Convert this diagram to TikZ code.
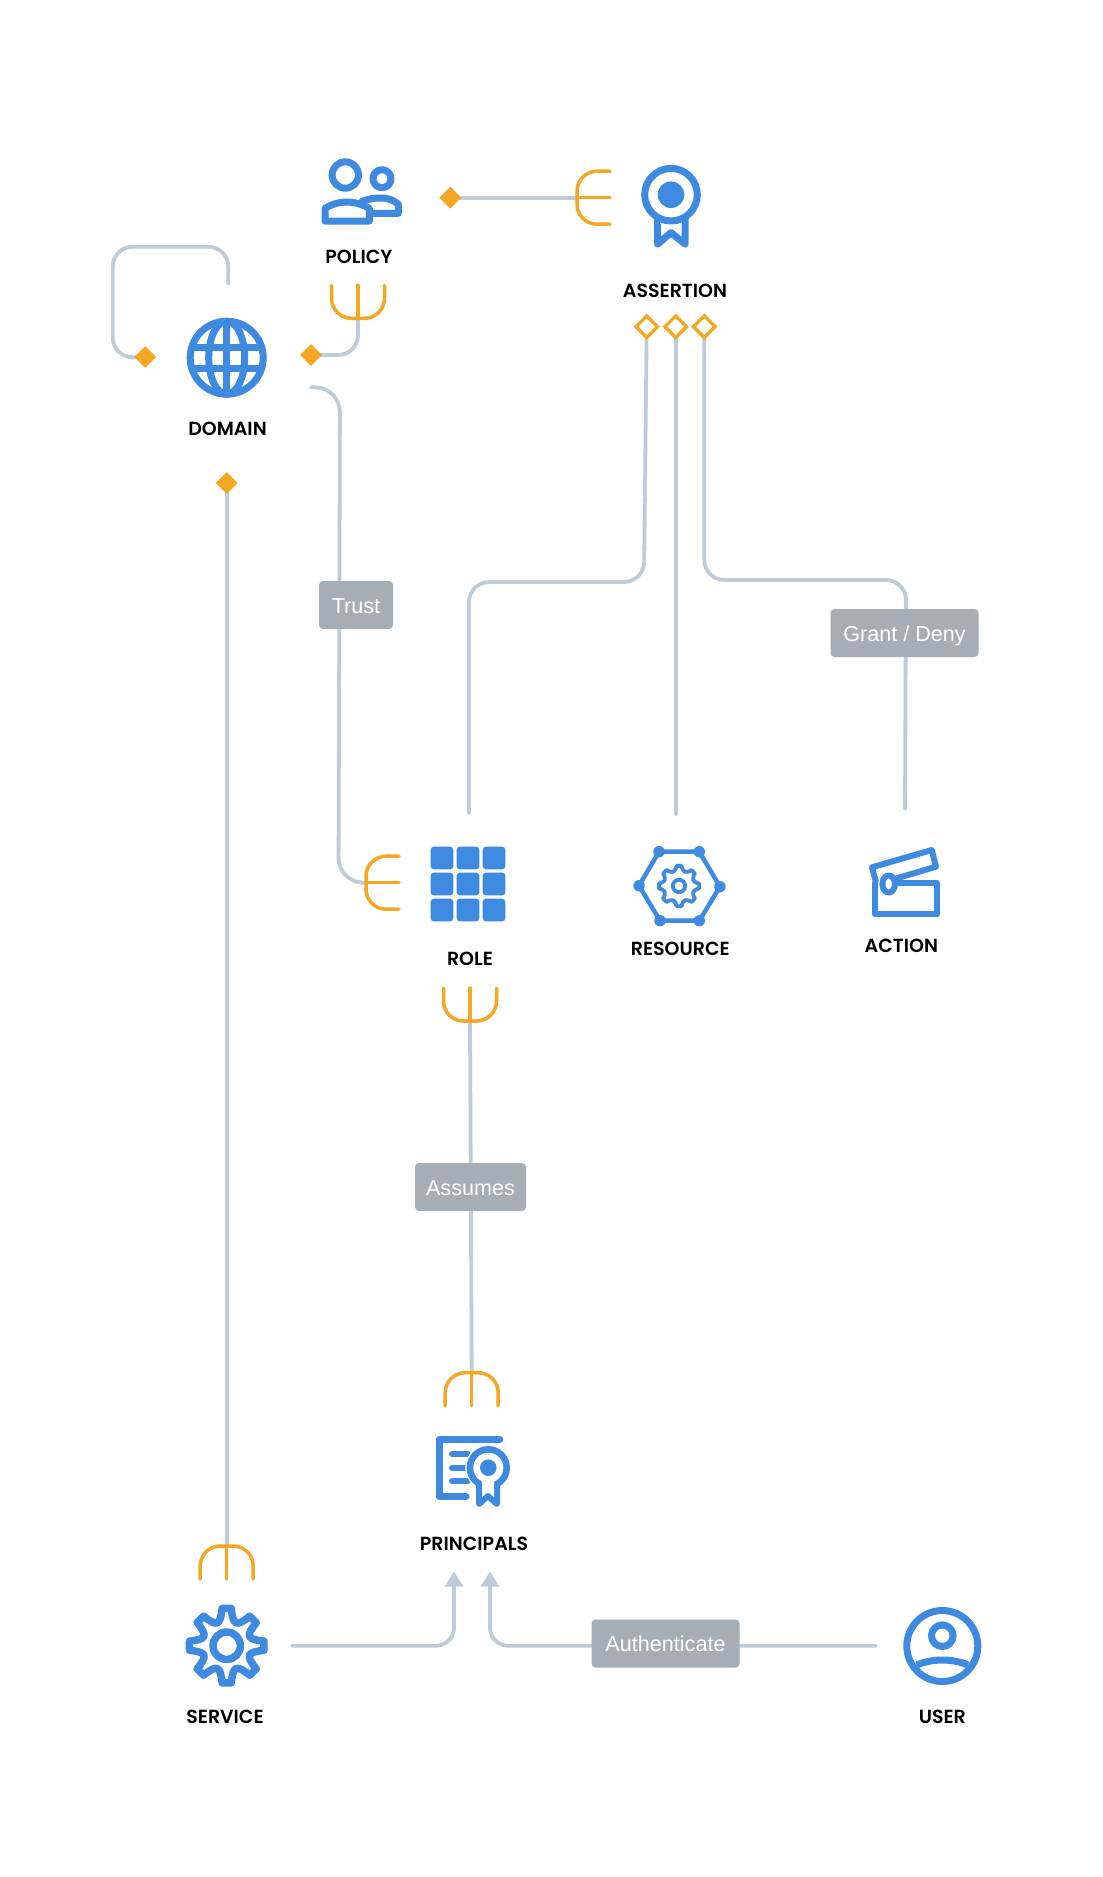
\documentclass[tikz,border=0pt]{standalone}
\usepackage{fontspec}
\setmainfont{Liberation Sans}
\newfontfamily\lblfont{Poppins}[BoldFont={* SemiBold}]
\usetikzlibrary{arrows.meta,shapes.geometric,backgrounds}
\definecolor{iconblue}{HTML}{3E8AE0}
\definecolor{forkorange}{HTML}{F5A623}
\definecolor{linegrey}{HTML}{BFCBD7}
\definecolor{tagfill}{HTML}{A5ADB5}
\tikzset{
  link/.style={draw=linegrey,line width=3.8pt,line cap=round,rounded corners=20pt},
  arrowlink/.style={link,rounded corners=18pt,-{Triangle[width=18pt,length=15pt]}},
  forkline/.style={draw=forkorange,line width=3.5pt,line cap=round,rounded corners=20pt},
  icon/.style={draw=iconblue,line width=7pt,line join=round,line cap=round},
  lbl/.style={font=\lblfont\bfseries\fontsize{19}{19}\selectfont,text=black,inner sep=0pt},
  tag/.style={fill=tagfill,rounded corners=4pt,text=white,font=\fontsize{21.6}{22}\selectfont,inner sep=0pt,anchor=center,text height=16pt,text depth=0pt},
  solid diamond/.style={diamond,fill=forkorange,minimum width=22pt,minimum height=22pt,inner sep=0pt},
  open diamond/.style={diamond,fill=white,draw=forkorange,line width=3.3pt,minimum width=23pt,minimum height=23pt,inner sep=0pt},
  crowfoot/.pic={
    \draw[forkline] (-26.5,-33) -- (-26.5,0) -- (26.5,0) -- (26.5,-33);
    \draw[forkline] (0,0) -- (0,-33);
  }
}
\newcommand{\mygear}[6]{% cx cy R valley width ringr
  \begin{scope}[shift={(#1,#2)}]
    \draw[icon,line width=#5pt,line cap=butt] (83:#3)
      \foreach \a in {0,45,...,315} { -- (\a+83:#3) -- (\a+97:#3) .. controls (\a+108:#4) and (\a+117:#4) .. (\a+128:#3) } -- cycle;
    \draw[icon,line width=#5pt] (0,0) circle[radius=#6];
  \end{scope}}
\begin{document}
\begin{tikzpicture}[x=1pt,y=-1pt]
\useasboundingbox (0,0) rectangle (1103,1877);

%%% labels
\node[lbl] (lpolicy) at (359,256.7) {POLICY};
\node[lbl] (lassertion) at (675,290.7) {ASSERTION};
\node[lbl] (ldomain) at (227.5,428.5) {DOMAIN};
\node[lbl] (lrole) at (470,958.5) {ROLE};
\node[lbl] (lresource) at (680.3,948.5) {RESOURCE};
\node[lbl] (laction) at (901.3,945.5) {ACTION};
\node[lbl] (lprincipals) at (474,1543.5) {PRINCIPALS};
\node[lbl] (lservice) at (225,1716.5) {SERVICE};
\node[lbl] (luser) at (942.3,1716.5) {USER};

%%% tags
\node[tag,minimum width=74pt,minimum height=48pt] (ttrust) at (356,605) {Trust};
\node[tag,minimum width=148pt,minimum height=48pt] (tgrant) at (904.5,633) {Grant / Deny};
\node[tag,minimum width=111pt,minimum height=48pt] (tassumes) at (470.5,1187) {Assumes};
\node[tag,minimum width=148pt,minimum height=48pt] (tauth) at (665.5,1643.5) {Authenticate};

%%% diamonds
\node[solid diamond] (dself) at (145.3,357) {};
\node[solid diamond] (dpolicy) at (311,355) {};
\node[solid diamond] (dassert) at (450.3,197.7) {};
\node[solid diamond] (dservice) at (226.7,483) {};
\node[open diamond] (oa) at (646.7,326.7) {};
\node[open diamond] (ob) at (675.7,326.7) {};
\node[open diamond] (oc) at (704.3,326.7) {};

%%% crow's feet
\pic at (358,318.3) {crowfoot};
\pic[rotate=-90] at (577,197.7) {crowfoot};
\pic[rotate=-90] at (366,882.7) {crowfoot};
\pic at (470,1021) {crowfoot};
\pic[rotate=180] at (471.7,1372.7) {crowfoot};
\pic[rotate=180] at (226.7,1546) {crowfoot};

%%% connector ends
\coordinate (cdomtop) at (228.3,284);
\coordinate (cpolfork) at (358,318.3);
\coordinate (casfork) at (577,197.7);
\coordinate (ctrust) at (311,387.3);
\coordinate (crolefork) at (366,882.7);
\coordinate (crolebot) at (470,1021);
\coordinate (cprifork) at (471.7,1372.7);
\coordinate (csvcfork) at (226.7,1546);
\coordinate (crole) at (469,813);
\coordinate (cres) at (675.7,814);
\coordinate (cact) at (905,809);
\coordinate (csvc) at (292,1645.7);
\coordinate (cuser) at (875.7,1645.7);
\coordinate (tipa) at (454,1571.7);
\coordinate (tipb) at (490,1571.7);

%%% connectors and background
\begin{scope}[on background layer]
  \fill[white] (0,0) rectangle (1103,1877);
  \draw[link] (cdomtop) -- (228.3,246.7) -- (112.7,246.7) -- (112.7,357.5) -- (dself.center);
  \draw[link] (cpolfork) -- (358,355) -- (dpolicy.center);
  \draw[link] (dassert.center) -- (casfork);
  \draw[link,rounded corners=25pt] (ctrust) -- (340,387.3) -- (338.5,882.7) -- (crolefork);
  \draw[link] (dservice.center) -- (csvcfork);
  \draw[link] (oa.center) -- (644,582) -- (469,582) -- (crole);
  \draw[link] (ob.center) -- (cres);
  \draw[link] (oc.center) -- (704.3,580) -- (906,580) -- (cact);
  \draw[link] (crolebot) -- (cprifork);
  \draw[arrowlink] (csvc) -- (454,1645.7) -- (tipa);
  \draw[arrowlink] (cuser) -- (490,1645.7) -- (tipb);
\end{scope}

%%% POLICY icon
\draw[icon] (382,178.7) circle[radius=9];
\draw[icon] (361.7,201.7) .. controls (368,198.5) and (375,198) .. (381.7,198) .. controls (388,198) and (393,200) .. (398.3,204) -- (398.3,213.3) -- (372.7,213.3);
\draw[icon] (345.3,175) circle[radius=13.2];
\draw[icon] (325,208.3) .. controls (332,204) and (340,202) .. (346.7,202) .. controls (354,202) and (362,204) .. (369.3,208.3) -- (369.3,221) -- (325,221) -- cycle;

%%% DOMAIN icon
\begin{scope}
  \draw[icon] (226.7,357.7) circle[radius=36.5];
  \draw[icon,line cap=butt] (226.7,321.2) -- (226.7,394.2);
  \draw[icon] (226.7,357.7) ellipse[x radius=18,y radius=36.5];
  \draw[icon,line cap=butt] (193,347.3) -- (260.4,347.3);
  \draw[icon,line cap=butt] (193,368) -- (260.4,368);
\end{scope}

%%% ASSERTION icon
\draw[icon] (657.7,215) -- (657.7,244) -- (671,232.7) -- (685,244) -- (685,215);
\fill[white] (660,215) rectangle (682,224);
\draw[icon,fill=white] (671,194.7) circle[radius=26.3];
\fill[iconblue] (671,194.7) circle[radius=13.3];

%%% ROLE icon
\foreach \x in {430.7,456.7,482.7} \foreach \y in {846.7,872.7,898.7}
  \fill[iconblue,rounded corners=3pt] (\x,\y) rectangle ++(22.6,22.6);

%%% RESOURCE icon
\draw[icon,line width=4.5pt] (659,851.7) -- (699.3,851.7) -- (720,886.7) -- (699.3,920.7) -- (660,920.7) -- (639,885.7) -- cycle;
\foreach \p in {(659,851.7),(699.3,851.7),(720,886.7),(699.3,920.7),(660,920.7),(639,885.7)}
  \fill[iconblue] \p circle[radius=5.7];
\mygear{679}{886}{20.3}{14}{3.8}{6.2}

%%% ACTION icon
\draw[icon,line width=6pt] (875.7,881) -- (872,867.3) -- (931.7,850) -- (936,866.7) -- (893.3,879.3);
\draw[icon,line width=6pt] (875,883) -- (875,914.3) -- (936.7,914.3) -- (936.7,883.3) -- (893,883.3);
\draw[icon,line width=6pt,fill=white] (888.7,884) ellipse[x radius=6.3,y radius=8.5];

%%% PRINCIPALS icon
\draw[icon] (499.8,1439.5) -- (439.2,1439.5) -- (439.2,1496.5) -- (466,1496.5);
\draw[icon,line width=6pt] (452,1454) -- (468,1454);
\draw[icon,line width=6pt] (452,1467.7) -- (468,1467.7);
\draw[icon,line width=6pt] (452,1481.3) -- (468,1481.3);
\fill[white] (488.3,1467.7) circle[radius=23];
\fill[iconblue] (488.3,1467.7) circle[radius=21.7];
\draw[icon,line width=6pt] (479,1480) -- (479,1504) -- (488,1496) -- (497,1504) -- (497,1480);
\fill[white] (488.3,1467.7) circle[radius=15];
\fill[white] (482,1477) -- (482,1497) -- (488,1491.5) -- (494,1497) -- (494,1477) -- cycle;
\fill[iconblue] (488.3,1467.7) circle[radius=8.3];

%%% SERVICE icon
\mygear{226.7}{1645.7}{37.5}{21}{7.5}{13.7}

%%% USER icon
\draw[icon] (942.3,1646) circle[radius=35.5];
\draw[icon] (942.3,1635.7) circle[radius=10.8];
\draw[icon,line cap=butt] (916.7,1665) .. controls (925,1661.5) and (934,1660) .. (942.3,1660) .. controls (951,1660) and (960,1661.5) .. (968,1665);
\end{tikzpicture}
\end{document}
